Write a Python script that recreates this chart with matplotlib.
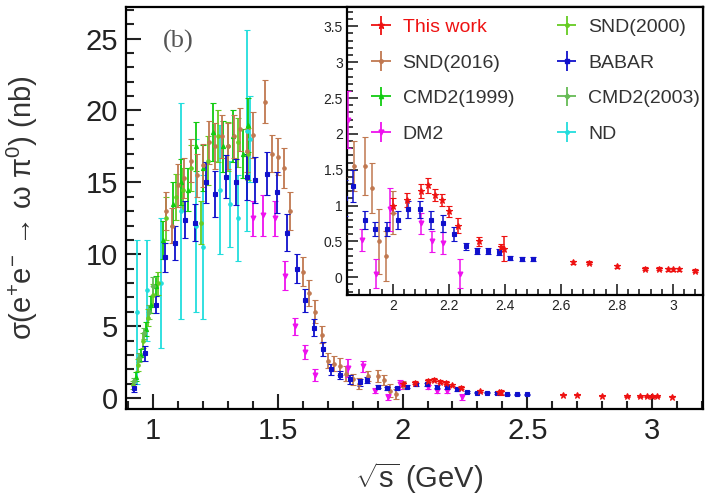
import matplotlib
matplotlib.use('Agg')
import matplotlib.pyplot as plt
from matplotlib.ticker import MultipleLocator, FuncFormatter

plt.rcParams['font.family'] = ['Liberation Sans', 'DejaVu Sans']
plt.rcParams['mathtext.fontset'] = 'custom'
plt.rcParams['mathtext.rm'] = 'Liberation Sans'
plt.rcParams['mathtext.it'] = 'Liberation Sans:italic'

# ---- data (sqrt(s) in GeV, cross section in nb) ----
this_x = [2.0, 2.05, 2.1, 2.125, 2.15, 2.175, 2.2, 2.2324, 2.3094, 2.3864, 2.396,
          2.6444, 2.7, 2.8, 2.9, 2.95, 2.981, 3.0, 3.02, 3.08]
this_y = [1.0, 1.08, 1.2, 1.28, 1.15, 1.08, 0.92, 0.72, 0.5, 0.42, 0.4,
          0.21, 0.2, 0.15, 0.12, 0.12, 0.11, 0.11, 0.11, 0.09]
this_e = [0.1, 0.1, 0.1, 0.1, 0.08, 0.08, 0.08, 0.1, 0.06, 0.05, 0.17,
          0.02, 0.02, 0.02, 0.02, 0.02, 0.02, 0.02, 0.02, 0.02]

snd16_x = [1.05, 1.075, 1.1, 1.125, 1.15, 1.175, 1.2, 1.225, 1.25, 1.275, 1.3, 1.325,
           1.35, 1.375, 1.4, 1.45, 1.475, 1.5, 1.525, 1.55, 1.6, 1.625, 1.65, 1.675,
           1.7, 1.725, 1.75, 1.775, 1.8, 1.825, 1.86, 1.9, 1.925, 1.95, 1.975, 2.0]
snd16_y = [13.0, 12.0, 14.8, 15.3, 16.5, 15.5, 16.2, 17.8, 17.5, 18.2, 17.5, 18.2,
           18.7, 17.2, 18.3, 20.6, 17.0, 16.8, 16.0, 13.0, 8.8, 7.3, 6.0, 4.4,
           2.6, 2.4, 2.2, 1.7, 1.3, 1.0, 1.55, 1.55, 1.25, 0.5, 0.3, 0.9]
snd16_e = [1.3, 1.2, 1.5, 1.4, 1.5, 1.5, 1.5, 1.5, 1.6, 1.5, 1.6, 1.5,
           1.5, 1.5, 1.6, 1.5, 1.3, 1.3, 1.4, 1.3, 1.0, 0.9, 0.8, 0.6,
           0.5, 0.5, 0.6, 0.5, 0.4, 0.4, 0.35, 0.4, 0.35, 0.45, 0.35, 0.3]

snd00_x = [0.92, 0.94, 0.96, 0.98, 1.0, 1.02, 1.05, 1.09, 1.12, 1.15, 1.19, 1.22, 1.26, 1.3, 1.34, 1.38]
snd00_y = [0.9, 2.3, 4.0, 5.6, 7.2, 8.0, 12.5, 14.0, 14.5, 16.0, 12.2, 16.5, 18.2, 17.5, 17.8, 17.0]
snd00_e = [0.3, 0.4, 0.5, 0.6, 0.7, 0.8, 1.5, 1.6, 1.5, 1.6, 1.5, 1.7, 1.8, 1.7, 1.7, 1.8]

cmd99_x = [0.93, 0.95, 0.97, 0.99, 1.01, 1.04, 1.08, 1.11, 1.14, 1.17, 1.2, 1.24, 1.28, 1.32, 1.36, 1.38]
cmd99_y = [1.5, 3.0, 4.8, 6.5, 7.8, 11.0, 13.5, 15.0, 14.5, 17.5, 16.0, 18.5, 17.5, 18.2, 17.0, 19.0]
cmd99_e = [0.3, 0.4, 0.5, 0.6, 0.7, 1.3, 1.5, 1.6, 1.5, 1.7, 1.6, 2.0, 1.8, 1.8, 1.7, 1.9]

cmd03_x = [0.925, 0.945, 0.965, 0.985, 1.0]
cmd03_y = [1.2, 2.8, 4.5, 6.0, 7.8]
cmd03_e = [0.2, 0.3, 0.4, 0.5, 0.6]

babar_x = [0.925, 0.968, 1.01, 1.048, 1.088, 1.128, 1.169, 1.213, 1.249, 1.293, 1.333, 1.377,
           1.41, 1.458, 1.498, 1.538, 1.578, 1.61, 1.645, 1.68, 1.715, 1.75, 1.79, 1.83,
           1.857, 1.9, 1.936, 1.979, 2.018, 2.054, 2.096, 2.138, 2.18, 2.22, 2.26, 2.3,
           2.34, 2.38, 2.42, 2.46, 2.5]
babar_y = [0.7, 3.1, 6.5, 9.8, 10.8, 12.4, 12.2, 15.0, 14.2, 15.4, 15.0, 15.4,
           15.2, 15.6, 14.3, 11.5, 9.0, 6.8, 4.9, 3.4, 2.0, 1.6, 1.3, 1.1,
           1.27, 0.8, 0.67, 0.67, 0.8, 0.95, 0.95, 0.8, 0.75, 0.6, 0.43, 0.37,
           0.37, 0.35, 0.27, 0.25, 0.25]
babar_e = [0.3, 0.5, 0.6, 1.0, 1.2, 1.3, 1.3, 1.4, 1.6, 1.5, 1.6, 1.6,
           1.6, 1.5, 1.4, 1.3, 1.0, 0.8, 0.6, 0.5, 0.4, 0.3, 0.3, 0.25,
           0.22, 0.13, 0.1, 0.1, 0.12, 0.12, 0.12, 0.12, 0.12, 0.1, 0.05, 0.04,
           0.04, 0.04, 0.03, 0.03, 0.03]

dm2_x = [1.40, 1.44, 1.49, 1.53, 1.57, 1.61, 1.65, 1.78, 1.84, 1.89, 1.94, 1.99, 2.1, 2.14, 2.18, 2.24]
dm2_y = [12.5, 12.7, 12.5, 8.5, 5.0, 3.2, 1.6, 2.1, 2.2, 0.52, 0.05, 0.95, 0.75, 0.5, 0.48, 0.05]
dm2_e = [1.2, 1.4, 1.2, 1.0, 0.6, 0.5, 0.4, 0.6, 0.4, 0.15, 0.2, 0.3, 0.15, 0.15, 0.15, 0.2]

nd_x = [0.935, 0.975, 1.03, 1.11, 1.17, 1.2, 1.27, 1.31, 1.34, 1.375, 1.39]
nd_y = [6.0, 7.5, 8.0, 13.0, 12.0, 10.5, 14.5, 13.5, 12.5, 18.6, 18.0]
nd_e = [5.0, 3.5, 4.5, 7.5, 6.0, 5.0, 4.5, 3.0, 3.0, 7.0, 3.0]

series = [
    ('This work', this_x, this_y, this_e, '#ee1111', '*', 5),
    ('SND(2016)', snd16_x, snd16_y, snd16_e, '#c07850', 'o', 2.5),
    ('CMD2(1999)', cmd99_x, cmd99_y, cmd99_e, '#11cc11', '^', 3),
    ('DM2', dm2_x, dm2_y, dm2_e, '#ee11ee', 'v', 3.5),
    ('SND(2000)', snd00_x, snd00_y, snd00_e, '#66cc22', 'o', 2.5),
    ('BABAR', babar_x, babar_y, babar_e, '#1010cc', 's', 3),
    ('CMD2(2003)', cmd03_x, cmd03_y, cmd03_e, '#66bb55', 'D', 2.5),
    ('ND', nd_x, nd_y, nd_e, '#22dddd', 'o', 2.5),
]
draw_order = ['ND', 'SND(2000)', 'CMD2(1999)', 'CMD2(2003)', 'SND(2016)', 'DM2', 'BABAR', 'This work']

fig = plt.figure(figsize=(7.05, 4.98), dpi=100)
ax = fig.add_axes([0.179, 0.179, 0.818, 0.807])
ins = fig.add_axes([0.492, 0.408, 0.505, 0.578])

lookup = {s[0]: s for s in series}
for name in draw_order:
    lab, xs, ys, es, col, mk, ms = lookup[name]
    for a, cs, lw in ((ax, 2.5, 1.3), (ins, 2, 1.1)):
        a.errorbar(xs, ys, yerr=es, fmt=mk, color=col, ms=ms, capsize=cs,
                   elinewidth=lw, capthick=lw, mew=0.8, zorder=3)

# legend proxies (empty) to get the ROOT-like cross symbol
handles = []
for lab, xs, ys, es, col, mk, ms in series:
    h = ins.errorbar([], [], xerr=[], yerr=[], fmt=mk, color=col, ms=ms,
                     capsize=3, elinewidth=1.3, capthick=1.3)
    handles.append(h)
leg = ins.legend(handles, [s[0] for s in series], ncol=2, loc='upper left',
                 bbox_to_anchor=(0.02, 1.0), frameon=False, fontsize=14,
                 handlelength=1.6, handletextpad=0.3, columnspacing=1.9,
                 labelspacing=0.92, borderaxespad=0.2)
for t in leg.get_texts():
    t.set_color('#333333')
leg.get_texts()[0].set_color('#ee1111')

fmt_g = FuncFormatter(lambda v, p: '%g' % round(v, 3))

# main axes styling
ax.set_xlim(0.892, 3.204)
ax.set_ylim(-0.75, 27.2)
ax.xaxis.set_major_locator(MultipleLocator(0.5))
ax.xaxis.set_minor_locator(MultipleLocator(0.1))
ax.yaxis.set_major_locator(MultipleLocator(5))
ax.yaxis.set_minor_locator(MultipleLocator(1))
ax.xaxis.set_major_formatter(fmt_g)
ax.tick_params(which='both', direction='in', width=1.5, colors='#222222', labelsize=21, pad=6)
ax.tick_params(which='major', length=11)
ax.tick_params(which='minor', length=5.5)
for sp in ax.spines.values():
    sp.set_linewidth(1.6)
ax.set_xlabel(r'$\sqrt{\mathregular{s}}$ (GeV)', fontsize=21, color='#333333')
ax.xaxis.label.set_verticalalignment('center')
ax.xaxis.set_label_coords(0.508, -0.172)
ax.set_ylabel(r'σ(e$^{+}$e$^{-}$ → ω π$^{0}$) (nb)', fontsize=21, color='#333333')
ax.yaxis.label.set_verticalalignment('center')
ax.yaxis.set_label_coords(-0.18, 0.50)
ax.text(0.064, 0.913, '(b)', transform=ax.transAxes, fontsize=19, color='#555555',
        family='Liberation Serif', va='center', ha='left')

# inset styling
ins.set_xlim(1.836, 3.107)
ins.set_ylim(-0.245, 3.77)
ins.xaxis.set_major_locator(MultipleLocator(0.2))
ins.xaxis.set_minor_locator(MultipleLocator(0.04))
ins.yaxis.set_major_locator(MultipleLocator(0.5))
ins.yaxis.set_minor_locator(MultipleLocator(0.1))
ins.yaxis.set_major_formatter(fmt_g)
ins.xaxis.set_major_formatter(fmt_g)
ins.tick_params(which='both', direction='in', width=1.2, colors='#222222', labelsize=10, pad=3)
ins.tick_params(which='major', length=8)
ins.tick_params(which='minor', length=4)
for sp in ins.spines.values():
    sp.set_linewidth(1.6)

fig.savefig('out.png', dpi=100)
